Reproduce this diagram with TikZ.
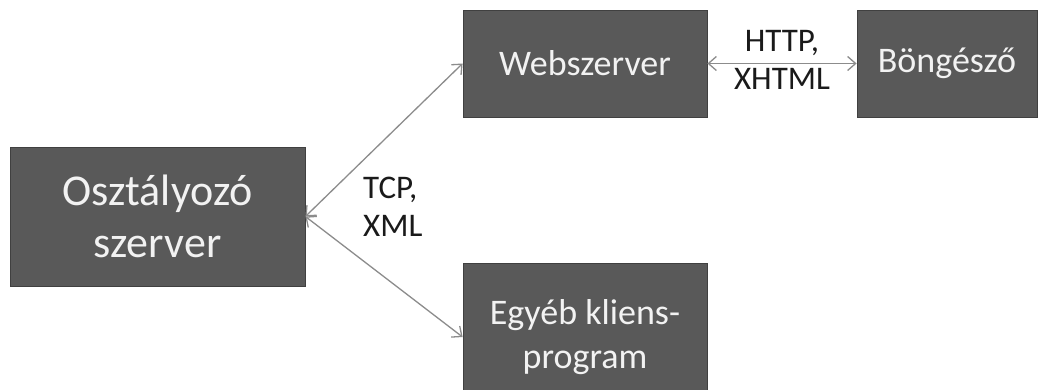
\documentclass[tikz,border=0pt]{standalone}
\usepackage{fontspec}
\setmainfont{Carlito}
\usetikzlibrary{arrows.meta}
\definecolor{boxfill}{HTML}{595959}
\definecolor{boxline}{HTML}{404040}
\definecolor{boxtext}{HTML}{F2F2F2}
\definecolor{linkgray}{HTML}{8C8C8C}
\definecolor{labeltext}{HTML}{1A1A1A}
\tikzset{
  block/.style={draw=boxline, line width=0.8pt, fill=boxfill, text=boxtext,
    align=center, inner sep=0pt, font=\fontsize{36}{44}\selectfont},
  bigblock/.style={block, font=\fontsize{44}{52}\selectfont},
  link/.style={draw=linkgray, line width=1.3pt,
    {Straight Barb[length=8pt,width=14pt]}-{Straight Barb[length=8pt,width=14pt]}},
  tag/.style={text=labeltext, inner sep=0pt, font=\fontsize{33}{38}\selectfont}
}
\begin{document}
\begin{tikzpicture}[x=1pt,y=-1pt]
  \useasboundingbox (0,0) rectangle (1039,390);
  \clip (0,0) rectangle (1039,390);
  \fill[white] (0,0) rectangle (1039,390);

  \node[bigblock, minimum width=295pt, minimum height=139pt] (osz) at (157.5,216.5)
    {Osztályozó\\szerver};
  \node[block, minimum width=244pt, minimum height=107pt] (web) at (585,63.5)
    {Webszerver};
  \node[block, minimum width=180pt, minimum height=107pt] (bon) at (947,63.5)
    {Böngésző};
  \node[block, minimum width=244pt, minimum height=148pt] (egy) at (585,337)
    {Egyéb kliens-\\program};

  \draw[link] (osz.east) -- (web.west);
  \draw[link] (osz.east) -- (egy.west);
  \draw[link] (web.east) -- (bon.west);

  \node[tag, align=center] (http) at (782,60) {HTTP,\\XHTML};
  \node[tag, align=left, anchor=west] (tcp) at (363,207) {TCP,\\XML};
\end{tikzpicture}
\end{document}
